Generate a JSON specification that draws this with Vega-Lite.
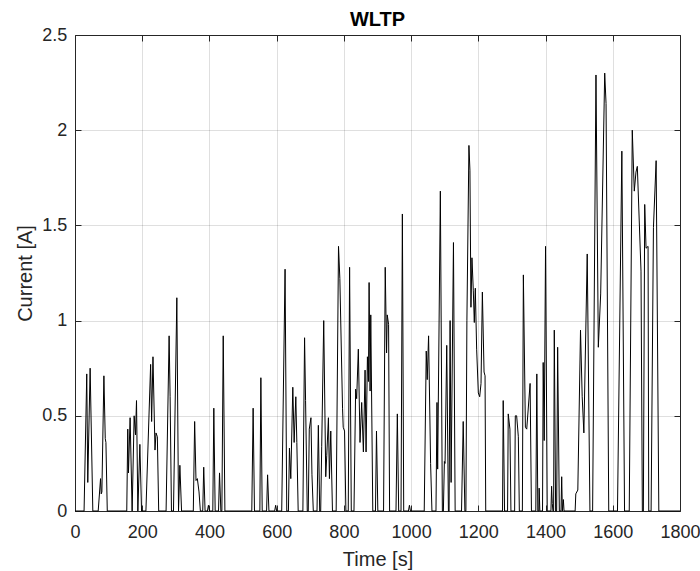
{
"$schema": "https://vega.github.io/schema/vega-lite/v6.json",
"autosize": {"type": "none"},
"padding": {"left": 75, "top": 35, "right": 20, "bottom": 60},
"width": 605,
"height": 476,
"background": "white",
"title": {"text": "WLTP", "font": "Liberation Sans", "fontSize": 20, "fontWeight": "bold", "color": "#000000", "anchor": "middle", "frame": "group", "offset": -3.5},
"config": {"view": {"stroke": null}},
"data": {"values": [
{"t":0,"v":0},{"t":27,"v":0},{"t":35,"v":0.72},{"t":38,"v":0.15},{"t":45,"v":0.75},{"t":53,"v":0},{"t":69,"v":0},{"t":76,"v":0.17},{"t":78,"v":0.09},{"t":80,"v":0.1},{"t":86,"v":0.71},{"t":90,"v":0.38},{"t":92,"v":0.36},{"t":96,"v":0},
{"t":154,"v":0},{"t":157,"v":0.43},{"t":159,"v":0.2},{"t":164,"v":0.49},{"t":170,"v":0},{"t":176,"v":0.5},{"t":180,"v":0.4},{"t":183,"v":0.58},{"t":187,"v":0},{"t":193,"v":0.35},{"t":198,"v":0},
{"t":211,"v":0},{"t":225,"v":0.77},{"t":228,"v":0.47},{"t":232,"v":0.81},{"t":238,"v":0.32},{"t":241,"v":0.41},{"t":245,"v":0.39},{"t":249,"v":0},
{"t":271,"v":0},{"t":280,"v":0.92},{"t":283,"v":0.6},{"t":287,"v":0},{"t":293,"v":0},{"t":303,"v":1.12},{"t":308,"v":0},{"t":312,"v":0.24},{"t":317,"v":0},
{"t":352,"v":0},{"t":356,"v":0.47},{"t":360,"v":0.16},{"t":364,"v":0.17},{"t":369,"v":0.1},{"t":373,"v":0},{"t":380,"v":0},{"t":383,"v":0.23},{"t":387,"v":0},{"t":394,"v":0},{"t":397,"v":0.03},{"t":400,"v":0},
{"t":410,"v":0},{"t":413,"v":0.54},{"t":417,"v":0},{"t":427,"v":0},{"t":430,"v":0.2},{"t":434,"v":0},{"t":437,"v":0},{"t":441,"v":0.92},{"t":446,"v":0},
{"t":526,"v":0},{"t":530,"v":0.54},{"t":534,"v":0},{"t":550,"v":0},{"t":553,"v":0.7},{"t":557,"v":0},{"t":570,"v":0},{"t":573,"v":0.19},{"t":577,"v":0},{"t":594,"v":0},{"t":597,"v":0.03},{"t":600,"v":0},
{"t":615,"v":0},{"t":625,"v":1.27},{"t":630,"v":0},{"t":635,"v":0},{"t":638,"v":0.33},{"t":642,"v":0.17},{"t":648,"v":0.65},{"t":652,"v":0.36},{"t":657,"v":0.6},{"t":660,"v":0.36},{"t":664,"v":0},
{"t":678,"v":0},{"t":683,"v":0.91},{"t":686,"v":0.58},{"t":691,"v":0},{"t":694,"v":0},{"t":697,"v":0.43},{"t":702,"v":0.49},{"t":705,"v":0.19},{"t":709,"v":0},
{"t":720,"v":0},{"t":724,"v":0.45},{"t":728,"v":0},{"t":731,"v":0},{"t":734,"v":0.34},{"t":740,"v":1.0},{"t":746,"v":0.18},{"t":749,"v":0.29},{"t":754,"v":0.49},{"t":757,"v":0.17},{"t":761,"v":0.42},{"t":766,"v":0},
{"t":777,"v":0},{"t":784,"v":1.39},{"t":788,"v":1.22},{"t":796,"v":0.54},{"t":798,"v":0.44},{"t":802,"v":0.42},{"t":806,"v":0},{"t":813,"v":0},{"t":817,"v":1.28},{"t":822,"v":0},
{"t":830,"v":0},{"t":835,"v":0.64},{"t":838,"v":0.59},{"t":843,"v":0.85},{"t":848,"v":0.36},{"t":853,"v":0.57},{"t":858,"v":0.31},{"t":863,"v":0.74},{"t":866,"v":0.31},{"t":870,"v":0.81},{"t":873,"v":0.68},{"t":875,"v":1.2},{"t":878,"v":0.63},{"t":880,"v":1.03},{"t":886,"v":0},
{"t":894,"v":0},{"t":897,"v":0.42},{"t":901,"v":0},{"t":918,"v":0},{"t":923,"v":1.28},{"t":927,"v":0.83},{"t":929,"v":1.03},{"t":933,"v":0.98},{"t":936,"v":0},
{"t":955,"v":0},{"t":959,"v":0.51},{"t":963,"v":0},{"t":970,"v":0},{"t":974,"v":1.56},{"t":978,"v":0},{"t":992,"v":0},{"t":995,"v":0.03},{"t":998,"v":0},
{"t":1039,"v":0},{"t":1045,"v":0.84},{"t":1048,"v":0.69},{"t":1052,"v":0.92},{"t":1058,"v":0.25},{"t":1062,"v":0},{"t":1074,"v":0},{"t":1077,"v":0.57},{"t":1079,"v":0.22},{"t":1087,"v":1.68},{"t":1093,"v":0},
{"t":1096,"v":0},{"t":1099,"v":0.26},{"t":1101,"v":0.25},{"t":1106,"v":0.87},{"t":1111,"v":0},{"t":1113,"v":0},{"t":1116,"v":1.0},{"t":1119,"v":0.15},{"t":1126,"v":1.41},{"t":1131,"v":0},
{"t":1150,"v":0},{"t":1155,"v":0.47},{"t":1160,"v":0},{"t":1163,"v":0},{"t":1166,"v":1.0},{"t":1172,"v":1.92},{"t":1175,"v":1.79},{"t":1178,"v":1.07},{"t":1181,"v":1.33},{"t":1185,"v":1.16},{"t":1188,"v":0.99},{"t":1191,"v":1.17},{"t":1195,"v":0.85},{"t":1200,"v":0.62},{"t":1204,"v":0.6},{"t":1208,"v":0.67},{"t":1212,"v":1.15},{"t":1217,"v":0.73},{"t":1220,"v":0.71},{"t":1222,"v":0},
{"t":1272,"v":0},{"t":1274,"v":0.58},{"t":1278,"v":0},{"t":1287,"v":0},{"t":1289,"v":0.51},{"t":1294,"v":0.43},{"t":1297,"v":0},{"t":1308,"v":0},{"t":1310,"v":0.5},{"t":1314,"v":0.5},{"t":1319,"v":0.39},{"t":1322,"v":0},
{"t":1331,"v":0},{"t":1334,"v":1.24},{"t":1340,"v":0.44},{"t":1344,"v":0.43},{"t":1354,"v":0.67},{"t":1358,"v":0},{"t":1371,"v":0},{"t":1374,"v":0.72},{"t":1377,"v":0},{"t":1380,"v":0},{"t":1381,"v":0.12},{"t":1383,"v":0},
{"t":1391,"v":0},{"t":1393,"v":0.78},{"t":1396,"v":0.37},{"t":1400,"v":1.39},{"t":1405,"v":0},{"t":1416,"v":0},{"t":1418,"v":0.13},{"t":1420,"v":0.04},{"t":1422,"v":0},{"t":1424,"v":0},{"t":1426,"v":0.95},{"t":1430,"v":0},
{"t":1433,"v":0},{"t":1436,"v":0.86},{"t":1441,"v":0},{"t":1446,"v":0},{"t":1448,"v":0.18},{"t":1450,"v":0},{"t":1453,"v":0.06},{"t":1455,"v":0},
{"t":1488,"v":0},{"t":1490,"v":0.09},{"t":1496,"v":0.11},{"t":1504,"v":0.95},{"t":1509,"v":0.6},{"t":1514,"v":0.41},{"t":1524,"v":1.35},{"t":1532,"v":0},
{"t":1540,"v":0},{"t":1550,"v":2.29},{"t":1557,"v":0.86},{"t":1564,"v":1.14},{"t":1576,"v":2.3},{"t":1580,"v":2.14},{"t":1588,"v":0},
{"t":1614,"v":0},{"t":1627,"v":1.89},{"t":1635,"v":0},{"t":1649,"v":0},{"t":1658,"v":2.0},{"t":1664,"v":1.68},{"t":1669,"v":1.78},{"t":1673,"v":1.81},{"t":1684,"v":1.26},{"t":1688,"v":0},
{"t":1691,"v":0},{"t":1695,"v":1.61},{"t":1699,"v":1.38},{"t":1705,"v":1.39},{"t":1707,"v":0},{"t":1714,"v":0},{"t":1721,"v":1.49},{"t":1729,"v":1.84},{"t":1737,"v":0},{"t":1800,"v":0}
]},
"layer": [
{
"mark": {"type": "line", "color": "#000000", "strokeWidth": 1, "interpolate": "linear"},
"encoding": {
"x": {"field": "t", "type": "quantitative", "scale": {"domain": [0, 1800], "nice": false, "zero": false},
 "axis": {"orient": "bottom", "values": [0,200,400,600,800,1000,1200,1400,1600,1800], "format": "d", "grid": true, "gridColor": "#262626", "gridOpacity": 0.15, "gridWidth": 1, "domainColor": "#262626", "domainWidth": 1, "tickColor": "#262626", "tickSize": -6, "tickWidth": 1, "labelFont": "Liberation Sans", "labelFontSize": 18, "labelColor": "#262626", "labelPadding": 18.7, "labelBaseline": "top", "labelFlush": false, "labelOverlap": false, "title": "Time [s]", "titleFont": "Liberation Sans", "titleFontSize": 20, "titleFontWeight": "normal", "titleColor": "#262626", "titleBaseline": "alphabetic", "titleY": 54}},
"y": {"field": "v", "type": "quantitative", "scale": {"domain": [0, 2.5], "nice": false, "zero": false},
 "axis": {"orient": "left", "values": [0,0.5,1,1.5,2,2.5], "format": "~g", "grid": true, "gridColor": "#262626", "gridOpacity": 0.15, "gridWidth": 1, "domainColor": "#262626", "domainWidth": 1, "tickColor": "#262626", "tickSize": -6, "tickWidth": 1, "labelFont": "Liberation Sans", "labelFontSize": 18, "labelColor": "#262626", "labelPadding": 14.3, "labelFlush": false, "labelOverlap": false, "title": "Current [A]", "titleFont": "Liberation Sans", "titleFontSize": 20, "titleFontWeight": "normal", "titleColor": "#262626", "titleBaseline": "alphabetic", "titleX": -44, "titleAngle": 270}}
}
},
{
"mark": {"type": "line", "opacity": 0},
"encoding": {
"x": {"field": "t", "type": "quantitative", "scale": {"domain": [0, 1800], "nice": false, "zero": false},
 "axis": {"orient": "top", "values": [0,200,400,600,800,1000,1200,1400,1600,1800], "labels": false, "grid": false, "title": null, "domainColor": "#262626", "domainWidth": 1, "tickColor": "#262626", "tickSize": -6, "tickWidth": 1}},
"y": {"field": "v", "type": "quantitative", "scale": {"domain": [0, 2.5], "nice": false, "zero": false},
 "axis": {"orient": "right", "values": [0,0.5,1,1.5,2,2.5], "labels": false, "grid": false, "title": null, "domainColor": "#262626", "domainWidth": 1, "tickColor": "#262626", "tickSize": -6, "tickWidth": 1}}
}
}
],
"resolve": {"axis": {"x": "independent", "y": "independent"}}
}
